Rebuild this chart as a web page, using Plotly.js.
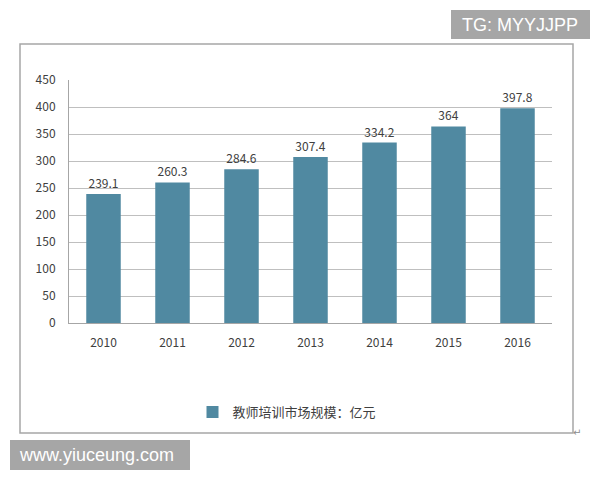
<!DOCTYPE html>
<html>
<head>
<meta charset="utf-8">
<script src="https://cdn.plot.ly/plotly-3.0.1.min.js"></script>
<style>html,body{margin:0;padding:0;background:#fff;}#chart{width:600px;height:480px;}</style>
</head>
<body>
<div id="chart"></div>
<script>
var years = ['2010', '2011', '2012', '2013', '2014', '2015', '2016'];
var marketSize = [239.1, 260.3, 284.6, 307.4, 334.2, 364, 397.8];
var seriesName = '教师培训市场规模：亿元';
var yTicks = [0, 50, 100, 150, 200, 250, 300, 350, 400, 450];

var W = 600, H = 480;
function px(x) { return x / W; }
function py(y) { return 1 - y / H; }

var fontFam = '"Noto Sans CJK SC", "Noto Sans", sans-serif';

var trace = {
  type: 'bar',
  x: years,
  y: marketSize,
  name: seriesName,
  text: marketSize.map(function (v) { return String(v); }),
  textposition: 'outside',
  textfont: {family: fontFam, size: 12, color: '#404040'},
  cliponaxis: false,
  marker: {color: '#5089a1'},
  hoverinfo: 'x+y'
};

var layout = {
  width: W,
  height: H,
  margin: {l: 0, r: 0, t: 0, b: 0},
  paper_bgcolor: '#ffffff',
  plot_bgcolor: '#ffffff',
  bargap: 0.5,
  font: {family: fontFam, size: 12, color: '#404040'},
  xaxis: {
    domain: [px(69), px(552)],
    type: 'category',
    showgrid: false,
    showline: true,
    linecolor: '#a6a6a6',
    linewidth: 1,
    ticks: '',
    ticklabelstandoff: 9,
    tickfont: {family: fontFam, size: 12, color: '#404040'},
    fixedrange: true
  },
  yaxis: {
    domain: [py(323), py(80)],
    range: [0, 450],
    tickvals: yTicks,
    ticktext: yTicks.map(String),
    showgrid: true,
    gridcolor: '#bfbfbf',
    gridwidth: 1,
    showline: true,
    linecolor: '#a6a6a6',
    linewidth: 1,
    zeroline: false,
    ticks: '',
    ticklabelstandoff: 10,
    tickfont: {family: fontFam, size: 12, color: '#404040'},
    fixedrange: true
  },
  showlegend: true,
  legend: {
    orientation: 'h',
    x: px(287),
    xanchor: 'center',
    y: py(412),
    yanchor: 'middle',
    font: {family: fontFam, size: 13, color: '#404040'},
    itemwidth: 30,
    bgcolor: 'rgba(0,0,0,0)'
  },
  shapes: [
    {type: 'rect', xref: 'paper', yref: 'paper', x0: px(20), x1: px(573), y0: py(433), y1: py(44),
     line: {color: '#a6a6a6', width: 1.5}, fillcolor: 'rgba(0,0,0,0)', layer: 'below'},
    {type: 'rect', xref: 'paper', yref: 'paper', x0: px(451), x1: px(590), y0: py(39), y1: py(10),
     line: {width: 0}, fillcolor: '#a6a6a6', layer: 'above'},
    {type: 'rect', xref: 'paper', yref: 'paper', x0: px(10), x1: px(190), y0: py(470), y1: py(440),
     line: {width: 0}, fillcolor: '#a6a6a6', layer: 'above'}
  ],
  annotations: [
    {xref: 'paper', yref: 'paper', x: px(520), y: py(25), xanchor: 'center', yanchor: 'middle',
     text: 'TG: MYYJJPP', showarrow: false,
     font: {family: '"Liberation Sans", Arial, sans-serif', size: 18, color: '#ffffff'}},
    {xref: 'paper', yref: 'paper', x: px(96), y: py(455), xanchor: 'center', yanchor: 'middle',
     text: 'www.yiuceung.com', showarrow: false,
     font: {family: '"Liberation Sans", Arial, sans-serif', size: 18, color: '#ffffff'}},
    {xref: 'paper', yref: 'paper', x: px(577), y: py(432), xanchor: 'center', yanchor: 'middle',
     text: '↵', showarrow: false,
     font: {family: '"DejaVu Sans", sans-serif', size: 10, color: '#8c8c8c'}}
  ]
};

Plotly.newPlot('chart', [trace], layout, {displayModeBar: false, staticPlot: true});
</script>
</body>
</html>
